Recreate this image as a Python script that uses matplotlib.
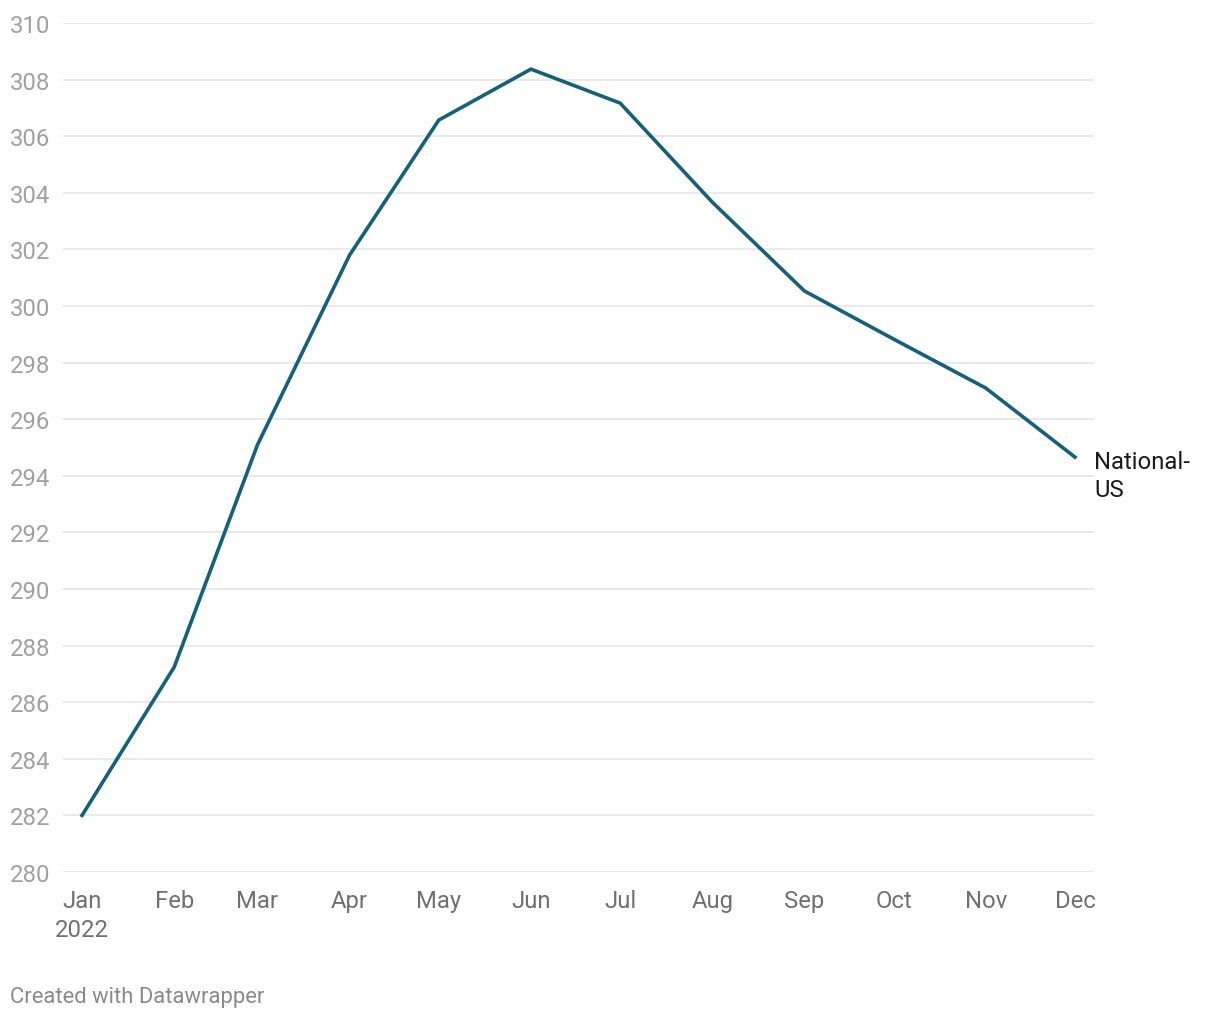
import matplotlib.pyplot as plt
import matplotlib.dates as mdates
import numpy as np
from datetime import datetime

plt.rcParams['font.family'] = ['Roboto', 'DejaVu Sans']

# monthly values, 2022
months = ['2022-01-01', '2022-02-01', '2022-03-01', '2022-04-01', '2022-05-01', '2022-06-01',
          '2022-07-01', '2022-08-01', '2022-09-01', '2022-10-01', '2022-11-01', '2022-12-01']
values = [282.0, 287.24, 295.09, 301.80, 306.57, 308.37,
          307.17, 303.67, 300.53, 298.83, 297.10, 294.66]
tick_labels = ['Jan\n2022', 'Feb', 'Mar', 'Apr', 'May', 'Jun',
               'Jul', 'Aug', 'Sep', 'Oct', 'Nov', 'Dec']
y_ticks = list(range(280, 311, 2))
series_name = 'National-\nUS'

dates = [datetime.strptime(m, '%Y-%m-%d') for m in months]
x = mdates.date2num(dates)

fig = plt.figure(figsize=(12.2, 10.2), dpi=100)
ax = fig.add_axes([63/1220, 1 - 873/1020, (1094 - 63)/1220, (873 - 24)/1020])

for yt in y_ticks:
    ax.axhline(yt, color='#e3e3e3', lw=1.1, zorder=0)

ax.plot(x, values, color='#15607a', lw=2.6, solid_joinstyle='miter', zorder=3)

ax.set_xlim(x[0] - 6.4, x[-1] + 6.4)
ax.set_ylim(280, 310)

ax.set_yticks(y_ticks)
ax.set_yticklabels([str(v) for v in y_ticks], color='#a0a0a0', fontsize=17.2)
ax.set_xticks(x)
ax.set_xticklabels(tick_labels, color='#707070', fontsize=17.2, va='top', linespacing=1.35)
ax.tick_params(axis='y', length=0, pad=9)
ax.tick_params(axis='x', length=0, pad=12)
for lbl in ax.get_xticklabels():
    lbl.set_horizontalalignment('center')

for s in ax.spines.values():
    s.set_visible(False)

ax.annotate(series_name, xy=(x[-1], values[-1]), xytext=(14, 5), textcoords='offset points',
            va='top', ha='left', fontsize=17.2, color='#1a1a1a', linespacing=1.25,
            annotation_clip=False)

fig.text(10/1220, 1 - 998/1020, 'Created with Datawrapper', fontsize=15.8, color='#8a8a8a',
         va='center', ha='left')

fig.savefig('out.png', dpi=100)
